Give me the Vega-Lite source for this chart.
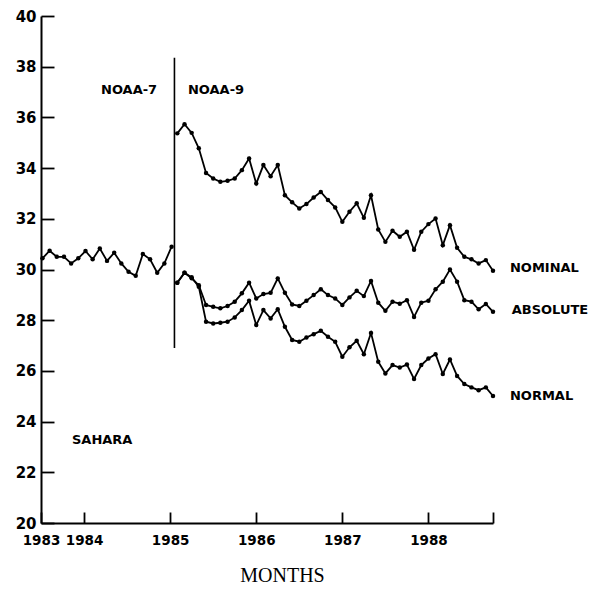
{
  "$schema": "https://vega.github.io/schema/vega-lite/v6.json",
  "width": 452,
  "height": 507,
  "autosize": {"type": "none"},
  "padding": {"left": 41, "top": 16, "right": 97, "bottom": 67},
  "background": "white",
  "config": {
    "view": {"stroke": null},
    "font": "DejaVu Sans"
  },
  "datasets": {
    "series": [
      {"t": 1983.517, "v": 30.44, "s": "NOAA-7"},
      {"t": 1983.600, "v": 30.74, "s": "NOAA-7"},
      {"t": 1983.683, "v": 30.50, "s": "NOAA-7"},
      {"t": 1983.767, "v": 30.50, "s": "NOAA-7"},
      {"t": 1983.850, "v": 30.24, "s": "NOAA-7"},
      {"t": 1983.933, "v": 30.44, "s": "NOAA-7"},
      {"t": 1984.017, "v": 30.73, "s": "NOAA-7"},
      {"t": 1984.100, "v": 30.40, "s": "NOAA-7"},
      {"t": 1984.183, "v": 30.83, "s": "NOAA-7"},
      {"t": 1984.267, "v": 30.34, "s": "NOAA-7"},
      {"t": 1984.350, "v": 30.66, "s": "NOAA-7"},
      {"t": 1984.433, "v": 30.24, "s": "NOAA-7"},
      {"t": 1984.517, "v": 29.91, "s": "NOAA-7"},
      {"t": 1984.600, "v": 29.75, "s": "NOAA-7"},
      {"t": 1984.683, "v": 30.61, "s": "NOAA-7"},
      {"t": 1984.767, "v": 30.40, "s": "NOAA-7"},
      {"t": 1984.850, "v": 29.87, "s": "NOAA-7"},
      {"t": 1984.933, "v": 30.24, "s": "NOAA-7"},
      {"t": 1985.017, "v": 30.90, "s": "NOAA-7"},

      {"t": 1985.083, "v": 35.37, "s": "NOMINAL"},
      {"t": 1985.167, "v": 35.73, "s": "NOMINAL"},
      {"t": 1985.250, "v": 35.39, "s": "NOMINAL"},
      {"t": 1985.333, "v": 34.78, "s": "NOMINAL"},
      {"t": 1985.417, "v": 33.81, "s": "NOMINAL"},
      {"t": 1985.500, "v": 33.59, "s": "NOMINAL"},
      {"t": 1985.583, "v": 33.46, "s": "NOMINAL"},
      {"t": 1985.667, "v": 33.50, "s": "NOMINAL"},
      {"t": 1985.750, "v": 33.59, "s": "NOMINAL"},
      {"t": 1985.833, "v": 33.92, "s": "NOMINAL"},
      {"t": 1985.917, "v": 34.38, "s": "NOMINAL"},
      {"t": 1986.000, "v": 33.39, "s": "NOMINAL"},
      {"t": 1986.083, "v": 34.12, "s": "NOMINAL"},
      {"t": 1986.167, "v": 33.68, "s": "NOMINAL"},
      {"t": 1986.250, "v": 34.12, "s": "NOMINAL"},
      {"t": 1986.333, "v": 32.93, "s": "NOMINAL"},
      {"t": 1986.417, "v": 32.65, "s": "NOMINAL"},
      {"t": 1986.500, "v": 32.41, "s": "NOMINAL"},
      {"t": 1986.583, "v": 32.58, "s": "NOMINAL"},
      {"t": 1986.667, "v": 32.84, "s": "NOMINAL"},
      {"t": 1986.750, "v": 33.06, "s": "NOMINAL"},
      {"t": 1986.833, "v": 32.74, "s": "NOMINAL"},
      {"t": 1986.917, "v": 32.45, "s": "NOMINAL"},
      {"t": 1987.000, "v": 31.88, "s": "NOMINAL"},
      {"t": 1987.083, "v": 32.28, "s": "NOMINAL"},
      {"t": 1987.167, "v": 32.61, "s": "NOMINAL"},
      {"t": 1987.250, "v": 32.04, "s": "NOMINAL"},
      {"t": 1987.333, "v": 32.93, "s": "NOMINAL"},
      {"t": 1987.417, "v": 31.58, "s": "NOMINAL"},
      {"t": 1987.500, "v": 31.09, "s": "NOMINAL"},
      {"t": 1987.583, "v": 31.53, "s": "NOMINAL"},
      {"t": 1987.667, "v": 31.29, "s": "NOMINAL"},
      {"t": 1987.750, "v": 31.49, "s": "NOMINAL"},
      {"t": 1987.833, "v": 30.78, "s": "NOMINAL"},
      {"t": 1987.917, "v": 31.49, "s": "NOMINAL"},
      {"t": 1988.000, "v": 31.79, "s": "NOMINAL"},
      {"t": 1988.083, "v": 32.01, "s": "NOMINAL"},
      {"t": 1988.167, "v": 30.96, "s": "NOMINAL"},
      {"t": 1988.250, "v": 31.75, "s": "NOMINAL"},
      {"t": 1988.333, "v": 30.86, "s": "NOMINAL"},
      {"t": 1988.417, "v": 30.50, "s": "NOMINAL"},
      {"t": 1988.500, "v": 30.40, "s": "NOMINAL"},
      {"t": 1988.583, "v": 30.24, "s": "NOMINAL"},
      {"t": 1988.667, "v": 30.37, "s": "NOMINAL"},
      {"t": 1988.750, "v": 29.95, "s": "NOMINAL"},

      {"t": 1985.083, "v": 29.48, "s": "ABSOLUTE"},
      {"t": 1985.167, "v": 29.87, "s": "ABSOLUTE"},
      {"t": 1985.250, "v": 29.65, "s": "ABSOLUTE"},
      {"t": 1985.333, "v": 29.38, "s": "ABSOLUTE"},
      {"t": 1985.417, "v": 28.60, "s": "ABSOLUTE"},
      {"t": 1985.500, "v": 28.53, "s": "ABSOLUTE"},
      {"t": 1985.583, "v": 28.47, "s": "ABSOLUTE"},
      {"t": 1985.667, "v": 28.56, "s": "ABSOLUTE"},
      {"t": 1985.750, "v": 28.73, "s": "ABSOLUTE"},
      {"t": 1985.833, "v": 29.06, "s": "ABSOLUTE"},
      {"t": 1985.917, "v": 29.48, "s": "ABSOLUTE"},
      {"t": 1986.000, "v": 28.86, "s": "ABSOLUTE"},
      {"t": 1986.083, "v": 29.03, "s": "ABSOLUTE"},
      {"t": 1986.167, "v": 29.08, "s": "ABSOLUTE"},
      {"t": 1986.250, "v": 29.65, "s": "ABSOLUTE"},
      {"t": 1986.333, "v": 29.08, "s": "ABSOLUTE"},
      {"t": 1986.417, "v": 28.62, "s": "ABSOLUTE"},
      {"t": 1986.500, "v": 28.56, "s": "ABSOLUTE"},
      {"t": 1986.583, "v": 28.77, "s": "ABSOLUTE"},
      {"t": 1986.667, "v": 28.99, "s": "ABSOLUTE"},
      {"t": 1986.750, "v": 29.22, "s": "ABSOLUTE"},
      {"t": 1986.833, "v": 28.99, "s": "ABSOLUTE"},
      {"t": 1986.917, "v": 28.86, "s": "ABSOLUTE"},
      {"t": 1987.000, "v": 28.60, "s": "ABSOLUTE"},
      {"t": 1987.083, "v": 28.90, "s": "ABSOLUTE"},
      {"t": 1987.167, "v": 29.16, "s": "ABSOLUTE"},
      {"t": 1987.250, "v": 28.95, "s": "ABSOLUTE"},
      {"t": 1987.333, "v": 29.55, "s": "ABSOLUTE"},
      {"t": 1987.417, "v": 28.69, "s": "ABSOLUTE"},
      {"t": 1987.500, "v": 28.37, "s": "ABSOLUTE"},
      {"t": 1987.583, "v": 28.73, "s": "ABSOLUTE"},
      {"t": 1987.667, "v": 28.65, "s": "ABSOLUTE"},
      {"t": 1987.750, "v": 28.79, "s": "ABSOLUTE"},
      {"t": 1987.833, "v": 28.13, "s": "ABSOLUTE"},
      {"t": 1987.917, "v": 28.69, "s": "ABSOLUTE"},
      {"t": 1988.000, "v": 28.77, "s": "ABSOLUTE"},
      {"t": 1988.083, "v": 29.22, "s": "ABSOLUTE"},
      {"t": 1988.167, "v": 29.52, "s": "ABSOLUTE"},
      {"t": 1988.250, "v": 30.00, "s": "ABSOLUTE"},
      {"t": 1988.333, "v": 29.52, "s": "ABSOLUTE"},
      {"t": 1988.417, "v": 28.79, "s": "ABSOLUTE"},
      {"t": 1988.500, "v": 28.73, "s": "ABSOLUTE"},
      {"t": 1988.583, "v": 28.43, "s": "ABSOLUTE"},
      {"t": 1988.667, "v": 28.64, "s": "ABSOLUTE"},
      {"t": 1988.750, "v": 28.33, "s": "ABSOLUTE"},

      {"t": 1985.083, "v": 29.48, "s": "NORMAL"},
      {"t": 1985.167, "v": 29.87, "s": "NORMAL"},
      {"t": 1985.250, "v": 29.69, "s": "NORMAL"},
      {"t": 1985.333, "v": 29.32, "s": "NORMAL"},
      {"t": 1985.417, "v": 27.94, "s": "NORMAL"},
      {"t": 1985.500, "v": 27.87, "s": "NORMAL"},
      {"t": 1985.583, "v": 27.90, "s": "NORMAL"},
      {"t": 1985.667, "v": 27.94, "s": "NORMAL"},
      {"t": 1985.750, "v": 28.11, "s": "NORMAL"},
      {"t": 1985.833, "v": 28.40, "s": "NORMAL"},
      {"t": 1985.917, "v": 28.77, "s": "NORMAL"},
      {"t": 1986.000, "v": 27.81, "s": "NORMAL"},
      {"t": 1986.083, "v": 28.40, "s": "NORMAL"},
      {"t": 1986.167, "v": 28.07, "s": "NORMAL"},
      {"t": 1986.250, "v": 28.43, "s": "NORMAL"},
      {"t": 1986.333, "v": 27.74, "s": "NORMAL"},
      {"t": 1986.417, "v": 27.22, "s": "NORMAL"},
      {"t": 1986.500, "v": 27.15, "s": "NORMAL"},
      {"t": 1986.583, "v": 27.32, "s": "NORMAL"},
      {"t": 1986.667, "v": 27.45, "s": "NORMAL"},
      {"t": 1986.750, "v": 27.58, "s": "NORMAL"},
      {"t": 1986.833, "v": 27.35, "s": "NORMAL"},
      {"t": 1986.917, "v": 27.15, "s": "NORMAL"},
      {"t": 1987.000, "v": 26.56, "s": "NORMAL"},
      {"t": 1987.083, "v": 26.93, "s": "NORMAL"},
      {"t": 1987.167, "v": 27.19, "s": "NORMAL"},
      {"t": 1987.250, "v": 26.66, "s": "NORMAL"},
      {"t": 1987.333, "v": 27.50, "s": "NORMAL"},
      {"t": 1987.417, "v": 26.36, "s": "NORMAL"},
      {"t": 1987.500, "v": 25.90, "s": "NORMAL"},
      {"t": 1987.583, "v": 26.23, "s": "NORMAL"},
      {"t": 1987.667, "v": 26.13, "s": "NORMAL"},
      {"t": 1987.750, "v": 26.25, "s": "NORMAL"},
      {"t": 1987.833, "v": 25.68, "s": "NORMAL"},
      {"t": 1987.917, "v": 26.23, "s": "NORMAL"},
      {"t": 1988.000, "v": 26.49, "s": "NORMAL"},
      {"t": 1988.083, "v": 26.66, "s": "NORMAL"},
      {"t": 1988.167, "v": 25.88, "s": "NORMAL"},
      {"t": 1988.250, "v": 26.45, "s": "NORMAL"},
      {"t": 1988.333, "v": 25.80, "s": "NORMAL"},
      {"t": 1988.417, "v": 25.48, "s": "NORMAL"},
      {"t": 1988.500, "v": 25.35, "s": "NORMAL"},
      {"t": 1988.583, "v": 25.24, "s": "NORMAL"},
      {"t": 1988.667, "v": 25.35, "s": "NORMAL"},
      {"t": 1988.750, "v": 25.01, "s": "NORMAL"}
    ],
    "switchover": [
      {"t": 1985.05, "lo": 26.9, "hi": 38.35}
    ],
    "labels": [
      {"t": 1984.197, "v": 37.07, "label": "NOAA-7"},
      {"t": 1985.207, "v": 37.07, "label": "NOAA-9"},
      {"t": 1983.86, "v": 23.29, "label": "SAHARA"},
      {"t": 1988.947, "v": 30.04, "label": "NOMINAL"},
      {"t": 1988.967, "v": 28.40, "label": "ABSOLUTE"},
      {"t": 1988.947, "v": 25.01, "label": "NORMAL"}
    ]
  },
  "layer": [
    {
      "data": {"name": "series"},
      "mark": {
        "type": "line",
        "color": "black",
        "strokeWidth": 1.8,
        "point": {"filled": true, "color": "black", "size": 20}
      },
      "encoding": {
        "x": {
          "field": "t",
          "type": "quantitative",
          "scale": {"domain": [1983.5, 1988.75], "nice": false, "zero": false},
          "axis": {
            "values": [1983.5, 1984, 1985, 1986, 1987, 1988, 1988.75],
            "labelExpr": "datum.value < 1984 ? '1983' : (datum.value > 1988.5 ? '' : format(datum.value, 'd'))",
            "grid": false,
            "domainColor": "black",
            "domainWidth": 2,
            "tickColor": "black",
            "tickWidth": 1.8,
            "tickSize": -11,
            "labelPadding": 21,
            "labelFont": "DejaVu Sans",
            "labelFontWeight": "bold",
            "labelFontSize": 13.5,
            "labelColor": "black",
            "labelFlush": false,
            "title": "MONTHS",
            "titleFont": "Liberation Serif",
            "titleFontWeight": "normal",
            "titleFontSize": 20,
            "titleColor": "black",
            "titleX": 241,
            "titleY": 58,
            "titleBaseline": "alphabetic"
          }
        },
        "y": {
          "field": "v",
          "type": "quantitative",
          "scale": {"domain": [20, 40], "nice": false, "zero": false},
          "axis": {
            "values": [20, 21, 22, 23, 24, 25, 26, 27, 28, 29, 30, 31, 32, 33, 34, 35, 36, 37, 38, 39, 40],
            "labelExpr": "datum.value % 2 == 0 ? format(datum.value, 'd') : ''",
            "grid": false,
            "domainColor": "black",
            "domainWidth": 2,
            "tickColor": "black",
            "tickWidth": 1.8,
            "tickSize": -13,
            "labelPadding": 18,
            "labelFont": "DejaVu Sans",
            "labelFontWeight": "bold",
            "labelFontSize": 15,
            "labelColor": "black",
            "labelFlush": false,
            "title": null
          }
        },
        "detail": {"field": "s", "type": "nominal"}
      }
    },
    {
      "data": {"name": "switchover"},
      "mark": {"type": "rule", "color": "black", "strokeWidth": 1.6},
      "encoding": {
        "x": {"field": "t", "type": "quantitative"},
        "y": {"field": "lo", "type": "quantitative"},
        "y2": {"field": "hi"}
      }
    },
    {
      "data": {"name": "labels"},
      "mark": {
        "type": "text",
        "align": "left",
        "baseline": "middle",
        "font": "DejaVu Sans",
        "fontWeight": "bold",
        "fontSize": 13,
        "color": "black"
      },
      "encoding": {
        "x": {"field": "t", "type": "quantitative"},
        "y": {"field": "v", "type": "quantitative"},
        "text": {"field": "label"}
      }
    }
  ]
}
